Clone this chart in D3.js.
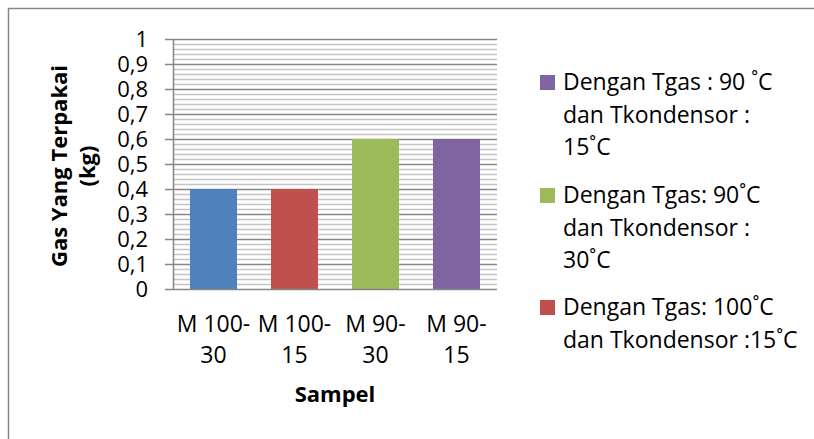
<!DOCTYPE html>
<html><head><meta charset="utf-8">
<script src="https://cdn.jsdelivr.net/npm/d3@7"></script>
<style>body{margin:0;background:#fff}svg{display:block}text{font-family:"Open Sans",sans-serif;fill:#000}</style>
</head><body>
<svg id="c" width="814" height="439"></svg>
<script>
const categories = [["M 100-","30"],["M 100-","15"],["M 90-","30"],["M 90-","15"]];
const values = [0.4, 0.4, 0.6, 0.6];
const colors = ["#4F81BD","#C0504D","#9BBB59","#8064A2"];
const yTicks = [0,0.1,0.2,0.3,0.4,0.5,0.6,0.7,0.8,0.9,1];
const legendItems = [
  {color:"#8064A2", lines:["Dengan Tgas : 90 ˚C","dan Tkondensor :","15˚C"]},
  {color:"#9BBB59", lines:["Dengan Tgas: 90˚C","dan Tkondensor :","30˚C"]},
  {color:"#C0504D", lines:["Dengan Tgas: 100˚C","dan Tkondensor :15˚C"]}
];
const yTitle = ["Gas Yang Terpakai","(kg)"];
const xTitle = "Sampel";

const svg = d3.select("#c");
svg.append("rect").attr("x",8.5).attr("y",8.5).attr("width",820).attr("height",450)
  .attr("fill","none").attr("stroke","#868686").attr("stroke-width",1.5);

const L=173, R=497, T=39, B=289;
const x = d3.scaleBand().domain(d3.range(categories.length)).range([L,R]).paddingInner(0.42).paddingOuter(0.21);
const y = d3.scaleLinear().domain([0,1]).range([B,T]);

const minor = d3.range(0,1.0001,0.02).filter(v=>Math.abs(v*10-Math.round(v*10))>1e-6);
svg.append("g").selectAll("line").data(minor).join("line")
  .attr("x1",L).attr("x2",R).attr("y1",d=>Math.round(y(d))+0.5).attr("y2",d=>Math.round(y(d))+0.5)
  .attr("stroke","#c4c4c4").attr("stroke-width",1.5);
svg.append("g").selectAll("line").data(yTicks.filter(v=>v>0)).join("line")
  .attr("x1",L-8).attr("x2",R).attr("y1",d=>Math.round(y(d))+0.5).attr("y2",d=>Math.round(y(d))+0.5)
  .attr("stroke","#868686").attr("stroke-width",1.5);

svg.append("g").selectAll("rect").data(values).join("rect")
  .attr("x",(d,i)=>x(i)).attr("width",x.bandwidth())
  .attr("y",d=>y(d)).attr("height",d=>B-y(d)).attr("fill",(d,i)=>colors[i]);

svg.append("line").attr("x1",L+0.5).attr("x2",L+0.5).attr("y1",T).attr("y2",B).attr("stroke","#868686").attr("stroke-width",1.5);
svg.append("line").attr("x1",L-8).attr("x2",R).attr("y1",B+0.5).attr("y2",B+0.5).attr("stroke","#868686").attr("stroke-width",1.5);

svg.append("g").selectAll("text").data(yTicks).join("text")
  .attr("x",148).attr("y",d=>y(d)+8).attr("text-anchor","end").attr("font-size",22)
  .text(d=>d===0?"0":d===1?"1":d3.format(".1f")(d).replace(".",","));

const xl = svg.append("g").selectAll("text").data(categories).join("text")
  .attr("text-anchor","middle").attr("font-size",23);
xl.each(function(d,i){
  const t=d3.select(this);
  d.forEach((s,j)=>t.append("tspan").attr("x",x(i)+x.bandwidth()/2).attr("y",332+j*31).text(s));
});

svg.append("text").attr("x",335).attr("y",402).attr("text-anchor","middle").attr("font-size",22).attr("font-weight","bold").text(xTitle);
const yt = svg.append("text").attr("transform","translate(0,166) rotate(-90)").attr("text-anchor","middle").attr("font-size",22).attr("font-weight","bold");
yTitle.forEach((s,j)=>yt.append("tspan").attr("x",0).attr("y",67+j*28).text(s));

const starts=[90,203,315];
legendItems.forEach((it,k)=>{
  const g=svg.append("g");
  g.append("rect").attr("x",540).attr("y",starts[k]-15).attr("width",15).attr("height",15).attr("fill",it.color);
  it.lines.forEach((s,j)=>g.append("text").attr("x",563).attr("y",starts[k]+j*32.5).attr("font-size",23).text(s));
});
</script>
</body></html>
